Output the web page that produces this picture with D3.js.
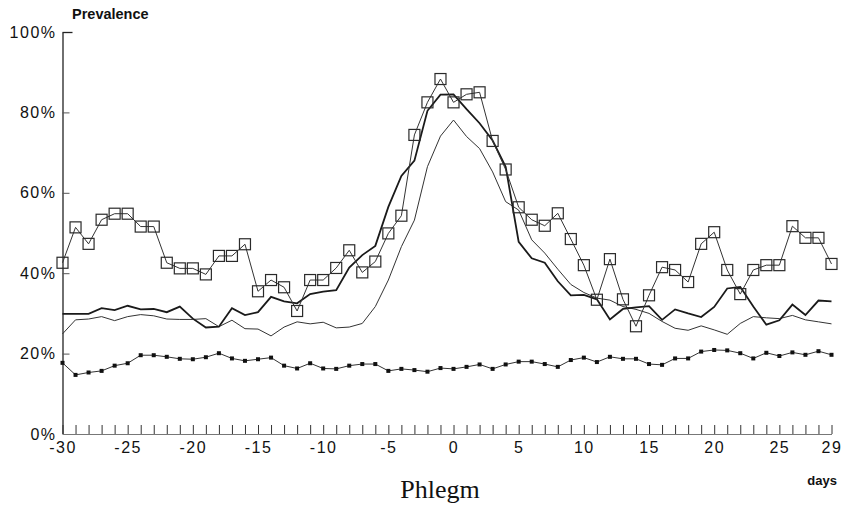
<!DOCTYPE html>
<html>
<head>
<meta charset="utf-8">
<script src="https://cdn.jsdelivr.net/npm/d3@7/dist/d3.min.js"></script>
<style>
  body { margin: 0; background: #fff; }
  svg { display: block; }
  .tick text { font-family: "Liberation Sans", Arial, sans-serif; font-size: 16px; letter-spacing: 1.5px; fill: #111; }
</style>
</head>
<body>
<div class="chart"></div>
<script>
// days relative to onset
var days = d3.range(-30, 30);

// open squares series
var squares = [42.6, 51.4, 47.3, 53.3, 54.8, 54.8, 51.6, 51.6, 42.6, 41.2,
               41.2, 39.7, 44.3, 44.3, 47.2, 35.5, 38.3, 36.5, 30.6, 38.3,
               38.3, 41.3, 45.7, 40.2, 42.9, 49.9, 54.3, 74.4, 82.5, 88.3,
               82.5, 84.5, 85.0, 72.9, 65.8, 56.4, 53.3, 51.8, 54.9, 48.5,
               42.0, 33.4, 43.5, 33.5, 26.8, 34.5, 41.5, 40.8, 37.8, 47.3,
               50.2, 40.8, 34.8, 40.8, 42.0, 42.0, 51.7, 48.8, 48.8, 42.3];

// thick line
var thick = [29.9, 29.9, 29.9, 31.3, 30.8, 31.9, 31.0, 31.1, 30.3, 31.7,
             28.7, 26.5, 26.7, 31.3, 29.6, 30.3, 34.1, 33.0, 32.5, 34.8,
             35.4, 35.8, 41.4, 44.5, 46.8, 56.5, 64.2, 68.0, 80.4, 84.4,
             84.5, 80.8, 77.3, 73.0, 66.5, 47.8, 43.7, 42.6, 38.0, 34.5,
             34.6, 33.5, 28.5, 31.1, 31.5, 31.8, 28.4, 31.0, 30.0, 29.1,
             31.6, 36.2, 36.6, 31.7, 27.2, 28.3, 32.2, 29.6, 33.2, 33.0];

// thin line
var thin = [24.9, 28.4, 28.6, 29.2, 28.2, 29.2, 29.7, 29.4, 28.6, 28.5,
            28.5, 28.7, 26.7, 28.3, 26.2, 26.1, 24.4, 26.6, 27.9, 27.4,
            27.8, 26.4, 26.6, 27.5, 31.7, 38.3, 46.6, 53.2, 66.5, 74.1,
            78.1, 74.0, 71.0, 65.2, 57.8, 55.7, 48.3, 45.0, 41.0, 37.2,
            35.2, 33.8, 33.3, 31.7, 31.0, 30.0, 28.0, 26.3, 25.8, 26.9,
            25.9, 24.8, 27.5, 29.2, 28.9, 28.7, 29.5, 28.4, 27.9, 27.4];

// filled small squares series
var dots = [17.7, 14.7, 15.3, 15.7, 17.0, 17.6, 19.6, 19.6, 19.2, 18.7,
            18.6, 19.1, 20.1, 18.8, 18.2, 18.6, 19.0, 17.0, 16.3, 17.6,
            16.3, 16.2, 17.0, 17.4, 17.4, 15.7, 16.2, 15.9, 15.5, 16.4,
            16.2, 16.7, 17.3, 16.2, 17.3, 18.0, 18.0, 17.4, 16.7, 18.4,
            19.0, 17.9, 19.2, 18.7, 18.7, 17.4, 17.2, 18.8, 18.8, 20.5,
            20.9, 20.8, 20.1, 18.8, 20.2, 19.4, 20.3, 19.7, 20.6, 19.7];

var yTicks = [0, 20, 40, 60, 80, 100];
var xLabels = [-30, -25, -20, -15, -10, -5, 0, 5, 10, 15, 20, 25, 29];

var width = 845, height = 516;
var svg = d3.select(".chart").append("svg").attr("width", width).attr("height", height);

var x = d3.scaleLinear().domain([-30, 29]).range([62.5, 831.5]);
var y = d3.scaleLinear().domain([0, 100]).range([434, 32]);

// y axis
var yAxis = d3.axisLeft(y).tickValues(yTicks).tickSizeInner(-7).tickSizeOuter(0).tickPadding(6)
    .tickFormat(function (d) { return d + "%"; });
var gy = svg.append("g").attr("transform", "translate(62.5,0)").call(yAxis);
gy.select(".domain").attr("stroke", "#222").attr("stroke-width", 1.3);
gy.selectAll(".tick line").attr("stroke", "#555");
gy.selectAll(".tick").filter(function (d) { return d == 100; }).select("line").attr("x2", 10).attr("stroke", "#222").attr("stroke-width", 1.3);
gy.selectAll(".tick").filter(function (d) { return d == 0; }).select("line").remove();

// x axis
var xAxis = d3.axisBottom(x).tickValues(days).tickSizeInner(-9).tickSizeOuter(0).tickPadding(13)
    .tickFormat(function (d) { return xLabels.indexOf(d) >= 0 ? String(d) : ""; });
var gx = svg.append("g").attr("transform", "translate(0,434)").call(xAxis);
gx.select(".domain").attr("stroke", "#777").attr("stroke-width", 1);
gx.selectAll(".tick line").attr("stroke", "#333").attr("stroke-width", 1);
gx.selectAll(".tick text").attr("dy", "0.35em");

// lines
function series(vals) {
    return vals.map(function (v, i) { return {d: days[i], v: v}; });
}
var line = d3.line().x(function (p) { return x(p.d); }).y(function (p) { return y(p.v); });

svg.append("path").datum(series(thin)).attr("d", line)
    .attr("fill", "none").attr("stroke", "#333").attr("stroke-width", 1);
svg.append("path").datum(series(thick)).attr("d", line)
    .attr("fill", "none").attr("stroke", "#1a1a1a").attr("stroke-width", 1.8);
svg.append("path").datum(series(squares)).attr("d", line)
    .attr("fill", "none").attr("stroke", "#333").attr("stroke-width", 1);
svg.append("path").datum(series(dots)).attr("d", line)
    .attr("fill", "none").attr("stroke", "#333").attr("stroke-width", 1);

// open square markers
var s = 11;
svg.append("g").selectAll("rect").data(series(squares)).enter().append("rect")
    .attr("x", function (p) { return x(p.d) - s / 2; })
    .attr("y", function (p) { return y(p.v) - s / 2; })
    .attr("width", s).attr("height", s)
    .attr("fill", "none").attr("stroke", "#2a2a2a").attr("stroke-width", 1.2);

// small filled markers
var m = 4;
svg.append("g").selectAll("rect").data(series(dots)).enter().append("rect")
    .attr("x", function (p) { return x(p.d) - m / 2; })
    .attr("y", function (p) { return y(p.v) - m / 2; })
    .attr("width", m).attr("height", m).attr("fill", "#111");

// titles
svg.append("text").attr("x", 72).attr("y", 19).text("Prevalence")
    .attr("font-family", "'Liberation Sans Narrow', 'Arial Narrow', sans-serif")
    .attr("font-weight", "bold").attr("font-size", 14.5).attr("fill", "#111");
svg.append("text").attr("x", 837).attr("y", 485).attr("text-anchor", "end").text("days")
    .attr("font-family", "'Liberation Sans Narrow', 'Arial Narrow', sans-serif")
    .attr("font-weight", "bold").attr("font-size", 13).attr("fill", "#111");
svg.append("text").attr("x", 440).attr("y", 498).attr("text-anchor", "middle").text("Phlegm")
    .attr("font-family", "'Liberation Serif', 'Times New Roman', serif")
    .attr("font-size", 26).attr("fill", "#111");
</script>
</body>
</html>
